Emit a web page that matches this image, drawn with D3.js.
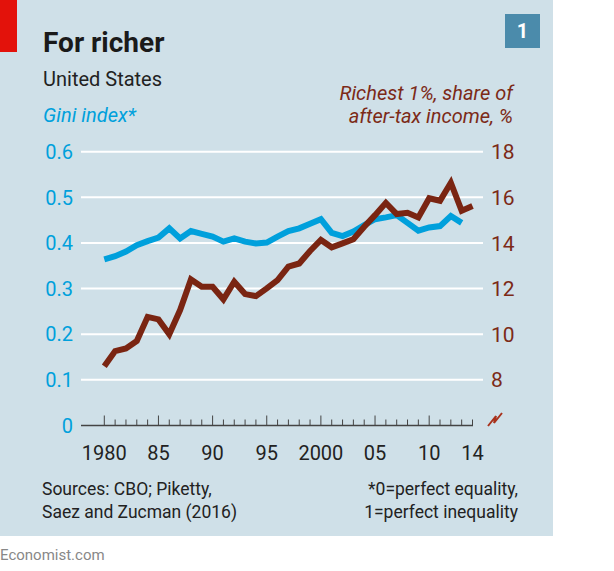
<!DOCTYPE html>
<html lang="en">
<head>
    <meta charset="UTF-8">
    <title>For richer</title>
    <script src="https://d3js.org/d3.v7.min.js"></script>
    <style>
        body { margin: 0; background: #fff; font-family: Roboto, "Open Sans", sans-serif; }
        svg text { font-family: Roboto, "Open Sans", sans-serif; }
    </style>
</head>
<body>
    <svg id="chart" width="614" height="571"></svg>

    <script>
        // Gini index, 1980-2013
        const giniYears = d3.range(1980, 2014);
        const giniValues = [0.364, 0.371, 0.381, 0.395, 0.404, 0.412, 0.432, 0.410, 0.426, 0.420,
                            0.414, 0.403, 0.410, 0.403, 0.399, 0.401, 0.414, 0.426, 0.432, 0.442,
                            0.452, 0.422, 0.415, 0.425, 0.439, 0.452, 0.456, 0.461, 0.444, 0.427,
                            0.434, 0.437, 0.459, 0.444];

        // Richest 1%, share of after-tax income (%), 1980-2014
        const topYears = d3.range(1980, 2015);
        const topValues = [8.60, 9.26, 9.38, 9.70, 10.76, 10.65, 10.00, 11.06, 12.40, 12.08,
                           12.08, 11.53, 12.30, 11.76, 11.67, 12.01, 12.37, 12.96, 13.10, 13.65,
                           14.13, 13.81, 13.98, 14.16, 14.71, 15.22, 15.76, 15.27, 15.32, 15.12,
                           15.96, 15.85, 16.64, 15.41, 15.62];

        const leftTicks = [0, 0.1, 0.2, 0.3, 0.4, 0.5, 0.6];
        const leftTickLabels = ["0", "0.1", "0.2", "0.3", "0.4", "0.5", "0.6"];
        const rightTicks = [8, 10, 12, 14, 16, 18];
        const xLabelYears = [1980, 1985, 1990, 1995, 2000, 2005, 2010, 2014];
        const xLabels = ["1980", "85", "90", "95", "2000", "05", "10", "14"];

        const blue = "#00a0dc", brown = "#7a2512", brownText = "#7c2a17";

        const svg = d3.select("#chart");

        // panel
        svg.append("rect").attr("x", 0).attr("y", 0).attr("width", 553).attr("height", 536).attr("fill", "#cfe0e8");
        svg.append("rect").attr("x", 0).attr("y", 0).attr("width", 17).attr("height", 52).attr("fill", "#e3120b");

        // chart number box
        svg.append("rect").attr("x", 505).attr("y", 14).attr("width", 35).attr("height", 34).attr("fill", "#4b8bab");
        svg.append("text").attr("x", 522.5).attr("y", 38).attr("text-anchor", "middle")
            .attr("font-size", 20).attr("font-weight", "bold").attr("fill", "#fff").text("1");

        // headings
        svg.append("text").attr("x", 43).attr("y", 52).attr("font-size", 28).attr("font-weight", "bold")
            .attr("fill", "#1a1a1a").text("For richer");
        svg.append("text").attr("x", 43).attr("y", 86).attr("font-size", 20).attr("fill", "#222").text("United States");
        svg.append("text").attr("x", 43).attr("y", 122).attr("font-size", 20).attr("font-style", "italic")
            .attr("fill", blue).text("Gini index*");
        svg.append("text").attr("x", 513).attr("y", 100).attr("font-size", 20).attr("font-style", "italic")
            .attr("text-anchor", "end").attr("fill", brownText).text("Richest 1%, share of");
        svg.append("text").attr("x", 513).attr("y", 123).attr("font-size", 20).attr("font-style", "italic")
            .attr("text-anchor", "end").attr("fill", brownText).text("after-tax income, %");

        // scales
        const x = d3.scaleLinear().domain([1980, 2014]).range([104.3, 472.5]);
        const yL = d3.scaleLinear().domain([0, 0.6]).range([425.5, 151.7]);
        const yR = d3.scaleLinear().domain([6, 18]).range([425.5, 151.7]);

        // gridlines
        svg.append("g").selectAll("line")
            .data(leftTicks.filter(d => d > 0))
            .enter().append("line")
            .attr("x1", 81).attr("x2", 483)
            .attr("y1", d => yL(d)).attr("y2", d => yL(d))
            .attr("stroke", "#fff").attr("stroke-width", 2);

        // left axis labels
        svg.append("g").selectAll("text")
            .data(leftTicks)
            .enter().append("text")
            .attr("x", 73).attr("y", d => yL(d)).attr("dy", "0.36em")
            .attr("text-anchor", "end").attr("font-size", 20).attr("fill", blue)
            .text((d, i) => leftTickLabels[i]);

        // right axis labels
        svg.append("g").selectAll("text")
            .data(rightTicks)
            .enter().append("text")
            .attr("x", 491).attr("y", d => yR(d)).attr("dy", "0.36em")
            .attr("font-size", 21).attr("fill", brownText)
            .text(d => d);

        // x axis baseline and ticks
        svg.append("line").attr("x1", 81).attr("x2", x(2014) + 0.5)
            .attr("y1", yL(0)).attr("y2", yL(0)).attr("stroke", "#444").attr("stroke-width", 1.5);
        svg.append("g").selectAll("line")
            .data(d3.range(1980, 2015))
            .enter().append("line")
            .attr("x1", d => x(d)).attr("x2", d => x(d))
            .attr("y1", yL(0)).attr("y2", d => yL(0) - (d % 5 === 0 ? 10 : 6))
            .attr("stroke", "#444").attr("stroke-width", 1);

        svg.append("g").selectAll("text")
            .data(xLabelYears)
            .enter().append("text")
            .attr("x", d => x(d)).attr("y", 460)
            .attr("text-anchor", "middle").attr("font-size", 20).attr("fill", "#222")
            .text((d, i) => xLabels[i]);

        // axis break mark on the right scale
        svg.append("path")
            .attr("d", "M488,426 L496,416 L494,423 L502,413")
            .attr("fill", "none").attr("stroke", "#a8321c").attr("stroke-width", 2);

        // lines
        const giniLine = d3.line().x((d, i) => x(giniYears[i])).y(d => yL(d));
        const topLine = d3.line().x((d, i) => x(topYears[i])).y(d => yR(d));

        svg.append("path").datum(giniValues).attr("d", giniLine)
            .attr("fill", "none").attr("stroke", blue).attr("stroke-width", 6).attr("stroke-linejoin", "miter");
        svg.append("path").datum(topValues).attr("d", topLine)
            .attr("fill", "none").attr("stroke", brown).attr("stroke-width", 6).attr("stroke-linejoin", "miter");

        // footnotes
        svg.append("text").attr("x", 42).attr("y", 495).attr("font-size", 17.5).attr("fill", "#222").text("Sources: CBO; Piketty,");
        svg.append("text").attr("x", 42).attr("y", 518).attr("font-size", 17.5).attr("fill", "#222").text("Saez and Zucman (2016)");
        svg.append("text").attr("x", 518).attr("y", 495).attr("font-size", 17.5).attr("text-anchor", "end").attr("fill", "#222").text("*0=perfect equality,");
        svg.append("text").attr("x", 518).attr("y", 518).attr("font-size", 17.5).attr("text-anchor", "end").attr("fill", "#222").text("1=perfect inequality");

        svg.append("text").attr("x", 0).attr("y", 560).attr("font-size", 15).attr("fill", "#888").text("Economist.com");
    </script>
</body>
</html>
